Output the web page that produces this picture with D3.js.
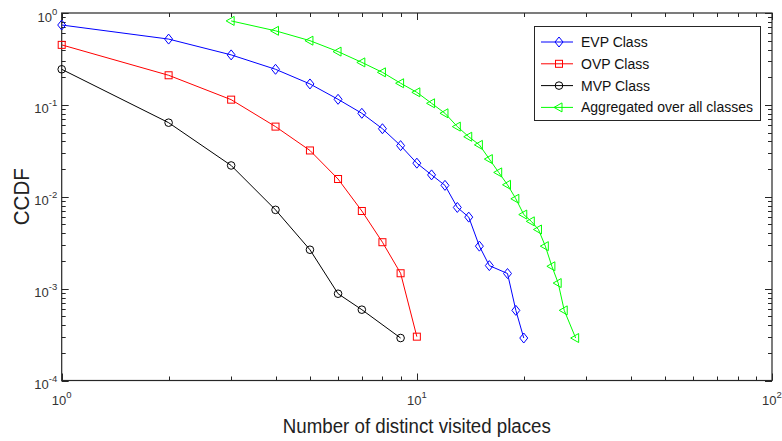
<!DOCTYPE html>
<html lang="en">
<head>
  <meta charset="UTF-8">
  <title>CCDF of distinct visited places</title>
  <script src="https://d3js.org/d3.v7.min.js"></script>
  <style>
    body { margin: 0; background: #fff; }
    svg { display: block; font-family: "Liberation Sans", Arial, sans-serif; }
    .narrow { font-family: "Liberation Sans Narrow", "Liberation Sans", Arial, sans-serif; }
  </style>
</head>
<body>
  <svg id="chart"></svg>

  <script>
    // values (log-log CCDF)
    const evpX = [1, 2, 3, 4, 5, 6, 7, 8, 9, 10, 11, 12, 13, 14, 15, 16, 18, 19, 20];
    const evpY = [0.74, 0.52, 0.35, 0.244, 0.169, 0.115, 0.081, 0.055, 0.036, 0.0232, 0.0173, 0.0133, 0.00765, 0.006, 0.0029, 0.00178, 0.00146, 0.00058, 0.00029];

    const ovpX = [1, 2, 3, 4, 5, 6, 7, 8, 9, 10];
    const ovpY = [0.45, 0.21, 0.114, 0.058, 0.0319, 0.0156, 0.007, 0.0032, 0.00147, 0.0003];

    const mvpX = [1, 2, 3, 4, 5, 6, 7, 9];
    const mvpY = [0.244, 0.064, 0.0219, 0.0072, 0.00265, 0.00088, 0.00059, 0.00029];

    const aggX = [3, 4, 5, 6, 7, 8, 9, 10, 11, 12, 13, 14, 15, 16, 17, 18, 19, 20, 21, 22, 23, 24, 25, 26, 28];
    const aggY = [0.82, 0.64, 0.5, 0.38, 0.29, 0.226, 0.172, 0.137, 0.104, 0.081, 0.058, 0.045, 0.0367, 0.0257, 0.0184, 0.0135, 0.0095, 0.0064, 0.0054, 0.0044, 0.0029, 0.00175, 0.00115, 0.00058, 0.00029];

    const seriesNames = ["EVP Class", "OVP Class", "MVP Class", "Aggregated over all classes"];
    const seriesColors = ["#0000ff", "#ff0000", "#000000", "#00ff00"];
    const seriesMarkers = ["diamond", "square", "circle", "triangle"];

    const xTickExp = [0, 1, 2];
    const yTickExp = [0, -1, -2, -3, -4];

    const width = 782;
    const height = 441;
    const margin = { top: 13, right: 10, bottom: 60.5, left: 61.7 };
    const axisColor = "#262626";

    const svg = d3.select("#chart")
      .attr("width", width)
      .attr("height", height);

    const x = d3.scaleLog()
      .domain([1, 100])
      .range([margin.left, width - margin.right]);

    const y = d3.scaleLog()
      .domain([1e-4, 1])
      .range([height - margin.bottom, margin.top]);

    const [x0, x1] = x.range();
    const [y0, y1] = y.range();

    // minor + major ticks, pointing inward on all four sides
    const xMinor = [], yMinor = [];
    for (let e = 0; e < 2; e++) for (let k = 2; k <= 9; k++) xMinor.push(k * Math.pow(10, e));
    for (let e = -4; e < 0; e++) for (let k = 2; k <= 9; k++) yMinor.push(k * Math.pow(10, e));

    const ticks = svg.append("g").attr("stroke", axisColor).attr("stroke-width", 1);

    function xTick(v, len) {
      const px = Math.round(x(v)) + 0.5;
      ticks.append("line").attr("x1", px).attr("x2", px).attr("y1", y0).attr("y2", y0 - len);
      ticks.append("line").attr("x1", px).attr("x2", px).attr("y1", y1).attr("y2", y1 + len);
    }
    function yTick(v, len) {
      const py = Math.round(y(v)) + 0.5;
      ticks.append("line").attr("y1", py).attr("y2", py).attr("x1", x0).attr("x2", x0 + len);
      ticks.append("line").attr("y1", py).attr("y2", py).attr("x1", x1).attr("x2", x1 - len);
    }
    xMinor.forEach(v => xTick(v, 4));
    xTickExp.forEach(e => xTick(Math.pow(10, e), 7));
    yMinor.forEach(v => yTick(v, 4));
    yTickExp.forEach(e => yTick(Math.pow(10, e), 7));

    svg.append("rect")
      .attr("x", x0).attr("y", y1)
      .attr("width", x1 - x0).attr("height", y0 - y1)
      .attr("fill", "none")
      .attr("stroke", axisColor)
      .attr("stroke-width", 1.2);

    // tick labels: 10 with superscript exponent
    const xLabels = svg.append("g").attr("class", "narrow").attr("fill", "#333").attr("font-size", 13);
    xTickExp.forEach(e => {
      const t = xLabels.append("text")
        .attr("x", x(Math.pow(10, e)))
        .attr("y", y0 + 24.5)
        .attr("text-anchor", "middle");
      t.append("tspan").text("10");
      t.append("tspan").attr("dy", -7).attr("font-size", 9.5).text(e);
    });

    const yLabels = svg.append("g").attr("class", "narrow").attr("fill", "#333").attr("font-size", 13);
    yTickExp.forEach(e => {
      const t = yLabels.append("text")
        .attr("x", x0 - 4.5)
        .attr("y", y(Math.pow(10, e)) + 8.5)
        .attr("text-anchor", "end");
      t.append("tspan").text("10");
      t.append("tspan").attr("dy", -7).attr("font-size", 9.5).text(e);
    });

    // axis titles
    svg.append("text")
      .attr("x", (x0 + x1) / 2)
      .attr("y", 432.5)
      .attr("text-anchor", "middle")
      .attr("font-size", 20)
      .attr("textLength", 268)
      .attr("lengthAdjust", "spacingAndGlyphs")
      .attr("fill", "#222")
      .text("Number of distinct visited places");

    svg.append("text")
      .attr("transform", `translate(28.5, ${(y0 + y1) / 2}) rotate(-90)`)
      .attr("text-anchor", "middle")
      .attr("font-size", 22)
      .attr("textLength", 57)
      .attr("lengthAdjust", "spacingAndGlyphs")
      .attr("fill", "#222")
      .text("CCDF");

    // marker shapes
    function drawMarker(g, kind, cx, cy, color) {
      if (kind === "diamond") {
        g.append("path")
          .attr("d", `M${cx},${cy - 5}L${cx + 4},${cy}L${cx},${cy + 5}L${cx - 4},${cy}Z`)
          .attr("fill", "none").attr("stroke", color);
      } else if (kind === "square") {
        g.append("rect")
          .attr("x", cx - 3.5).attr("y", cy - 3.5).attr("width", 7).attr("height", 7)
          .attr("fill", "none").attr("stroke", color);
      } else if (kind === "circle") {
        g.append("circle")
          .attr("cx", cx).attr("cy", cy).attr("r", 3.8)
          .attr("fill", "none").attr("stroke", color);
      } else {
        g.append("path")
          .attr("d", `M${cx - 5},${cy}L${cx + 3},${cy - 4.5}L${cx + 3},${cy + 4.5}Z`)
          .attr("fill", "none").attr("stroke", color);
      }
    }

    const allSeries = [
      { xs: evpX, ys: evpY },
      { xs: ovpX, ys: ovpY },
      { xs: mvpX, ys: mvpY },
      { xs: aggX, ys: aggY }
    ];

    const line = d3.line()
      .x(d => x(d[0]))
      .y(d => y(d[1]));

    allSeries.forEach((s, i) => {
      const pts = s.xs.map((v, j) => [v, s.ys[j]]);
      const g = svg.append("g").attr("stroke-width", 1);
      g.append("path")
        .datum(pts)
        .attr("d", line)
        .attr("fill", "none")
        .attr("stroke", seriesColors[i]);
      pts.forEach(p => drawMarker(g, seriesMarkers[i], x(p[0]), y(p[1]), seriesColors[i]));
    });

    // Legend
    const legend = svg.append("g");
    legend.append("rect")
      .attr("x", 534.5).attr("y", 26.5)
      .attr("width", 226).attr("height", 94)
      .attr("fill", "#fff")
      .attr("stroke", axisColor)
      .attr("stroke-width", 1);

    seriesNames.forEach((name, i) => {
      const ly = 42 + i * 21.8;
      legend.append("line")
        .attr("x1", 541).attr("x2", 573)
        .attr("y1", ly).attr("y2", ly)
        .attr("stroke", seriesColors[i]);
      drawMarker(legend, seriesMarkers[i], 559, ly, seriesColors[i]);
      legend.append("text")
        .attr("x", 581)
        .attr("y", ly + 5)
        .attr("font-size", 14)
        .attr("fill", "#111")
        .text(name);
    });
  </script>
</body>
</html>
